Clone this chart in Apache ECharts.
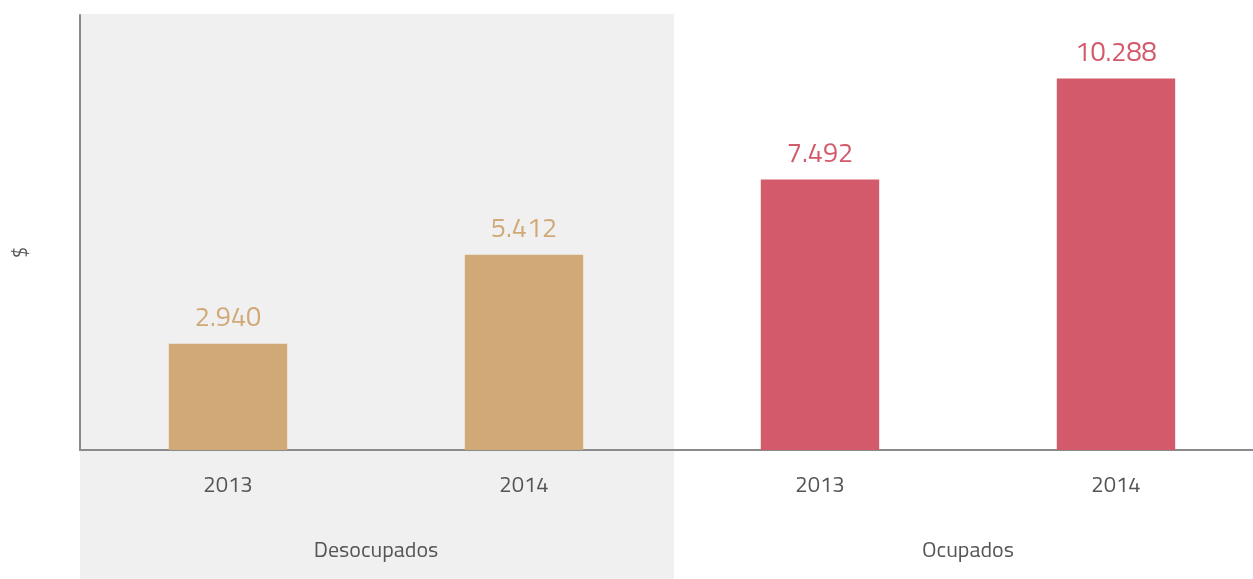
<!DOCTYPE html>
<html style="height: 100%">
<head>
    <meta charset="utf-8">
    <title>Desocupados / Ocupados</title>
</head>
<body style="height: 100%; margin: 0; background: #fff">
    <div id="container" style="width: 1253px; height: 579px"></div>
    <script src="https://cdn.jsdelivr.net/npm/echarts@6/dist/echarts.min.js"></script>
    <script type="text/javascript">
        // 数据
        var years = ['2013', '2014', '2013', '2014'];
        var groups = ['Desocupados', 'Ocupados'];
        var values = [2940, 5412, 7492, 10288];
        var barColors = ['#d0a977', '#d0a977', '#d35a6a', '#d35a6a'];

        var font = "'Titillium Web', 'DejaVu Sans Condensed', 'Liberation Sans Narrow', sans-serif";
        var yMax = 12050;

        // 布局
        var W = 1253, H = 579;
        var gridLeft = 80, gridRight = -11, gridTop = 15, gridBottom = 129;
        var plotWidth = W - gridLeft - gridRight;

        var dom = document.getElementById("container");
        var myChart = echarts.init(dom);

        function fmt(v) {
            return String(v).replace(/\B(?=(\d{3})+(?!\d))/g, '.');
        }

        var option = {
            animation: false,
            grid: [{
                left: gridLeft, right: gridRight, top: gridTop, bottom: gridBottom,
                outerBoundsMode: 'none'
            }, {
                // 灰色背景 (Desocupados)
                z: -1,
                show: true,
                backgroundColor: '#f0f0f0',
                borderWidth: 0,
                left: gridLeft, top: gridTop - 1, width: plotWidth / 2 + 2, bottom: 0,
                outerBoundsMode: 'none'
            }],
            xAxis: [{
                type: 'category',
                data: years,
                axisLine: { lineStyle: { color: '#8a8a8a', width: 2 } },
                axisTick: { show: false },
                axisLabel: { color: '#555', fontSize: 22, margin: 26, fontFamily: font }
            }, {
                type: 'category',
                data: groups,
                position: 'bottom',
                offset: 67,
                axisLine: { show: false },
                axisTick: { show: false },
                axisLabel: { color: '#555', fontSize: 22, margin: 24, fontFamily: font }
            }, {
                type: 'value', gridIndex: 1, show: false
            }],
            yAxis: [{
                type: 'value',
                min: 0,
                max: yMax,
                name: '$',
                nameLocation: 'middle',
                nameGap: 48,
                nameTextStyle: { color: '#555', fontSize: 20, fontFamily: font, padding: [0, 40, 0, 0] },
                axisLine: { show: true, lineStyle: { color: '#8a8a8a', width: 2 } },
                axisTick: { show: false },
                axisLabel: { show: false },
                splitLine: { show: false }
            }, {
                type: 'value', gridIndex: 1, show: false
            }],
            series: [{
                type: 'bar',
                xAxisIndex: 0,
                yAxisIndex: 0,
                barWidth: '40%',
                data: values.map(function (v, i) {
                    return {
                        value: v,
                        itemStyle: { color: barColors[i] },
                        label: { color: barColors[i] }
                    };
                }),
                label: {
                    show: true,
                    position: 'top',
                    distance: 11,
                    fontSize: 27,
                    fontFamily: font,
                    formatter: function (p) { return fmt(p.value); }
                }
            }]
        };
        myChart.setOption(option);
    </script>
</body>
</html>
